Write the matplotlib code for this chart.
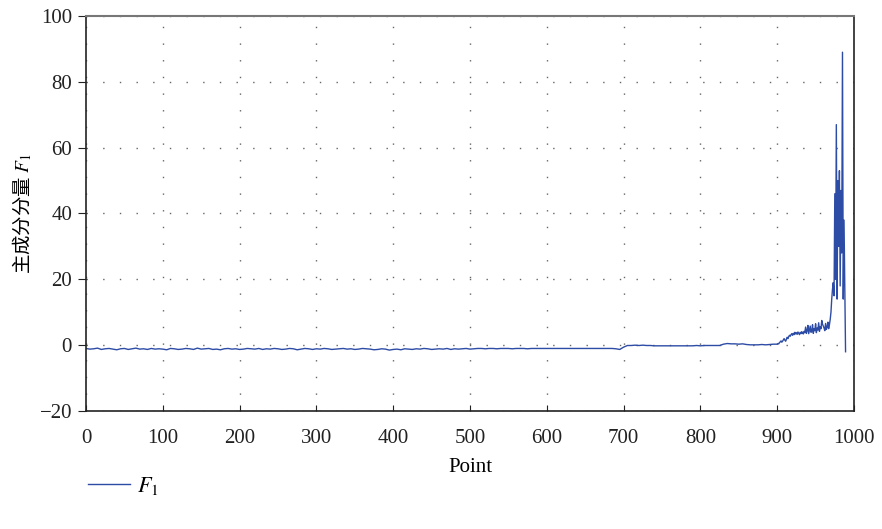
import matplotlib
matplotlib.use("Agg")
import matplotlib.pyplot as plt
import numpy as np

# ---- data ----
x_flat = list(range(0, 700, 5))
y_flat = [-1.0, -1.2, -1.1, -0.9, -1.3, -1.1, -1.0, -1.2, -1.4, -1.1,
          -1.0, -1.3, -1.1, -0.9, -1.2, -1.1, -1.3, -1.0, -1.2, -1.1,
          -1.2, -1.4, -1.0, -1.1, -1.3, -1.2, -1.0, -1.1, -1.3, -0.9,
          -1.2, -1.1, -1.0, -1.3, -1.2, -1.4, -1.1, -1.0, -1.2, -1.1,
          -1.3, -1.2, -1.0, -1.1, -1.2, -1.0, -1.3, -1.1, -1.2, -1.0,
          -1.1, -1.3, -1.2, -1.0, -1.1, -1.4, -1.2, -1.0, -1.1, -1.3,
          -1.1, -1.2, -1.0, -1.1, -1.3, -1.2, -1.1, -1.0, -1.2, -1.1,
          -1.3, -1.2, -1.0, -1.1, -1.2, -1.4, -1.3, -1.1, -1.2, -1.5,
          -1.3, -1.2, -1.4, -1.1, -1.2, -1.3, -1.1, -1.2, -1.0, -1.1,
          -1.3, -1.2, -1.1, -1.2, -1.0, -1.3, -1.1, -1.2, -1.1, -1.0,
          -1.2, -1.1, -1.0, -1.0, -1.1, -1.0, -1.0, -1.1, -1.0, -1.0,
          -1.0, -1.1, -1.0, -1.0, -1.0, -1.1, -1.0, -1.0, -1.0, -1.0,
          -1.0, -1.0, -1.0, -1.0, -1.0, -1.0, -1.0, -1.0, -1.0, -1.0,
          -1.0, -1.0, -1.0, -1.0, -1.0, -1.0, -1.0, -1.0, -1.1, -1.3]
x_mid = list(range(700, 900, 5))
y_mid = [-0.6, -0.1, -0.1, 0.0, -0.1, 0.0, -0.1, -0.1, -0.2, -0.2,
         -0.2, -0.2, -0.2, -0.2, -0.2, -0.2, -0.2, -0.2, -0.2, -0.1,
         -0.2, -0.1, -0.1, -0.1, -0.1, -0.1, 0.3, 0.5, 0.4, 0.4,
         0.3, 0.4, 0.2, 0.1, 0.1, 0.1, 0.2, 0.1, 0.2, 0.3]
x_tail = list(range(900, 990))
y_tail = [0.3, 0.5, 0.4, 0.8, 1.0, 1.3, 0.9, 1.2, 1.6, 2.0,
          1.5, 1.2, 1.8, 2.4, 2.0, 2.6, 3.0, 2.7, 3.2, 3.5,
          3.0, 3.6, 3.2, 3.9, 3.4, 3.8, 3.3, 4.0, 3.6, 3.2,
          3.9, 3.5, 4.1, 3.7, 3.4, 4.2, 3.8, 5.5, 3.6, 4.4,
          6.0, 3.5, 4.6, 5.8, 3.9, 4.3, 6.2, 3.6, 5.0, 4.4,
          6.5, 3.8, 5.2, 4.6, 6.8, 4.2, 5.6, 5.0, 7.5, 6.4,
          5.8, 5.2, 4.4, 6.6, 4.8, 5.4, 7.0, 5.0, 6.2, 7.8,
          10.0, 14.0, 17.0,
          19.0, 15.0, 46.0, 20.0, 67.0, 14.0, 50.0, 30.0, 53.0, 18.0,
          47.0, 28.0, 89.0, 14.0, 38.0, 17.0, -2.0]

x_all = x_flat + x_mid + x_tail
y_all = y_flat + y_mid + y_tail

xticks = [0, 100, 200, 300, 400, 500, 600, 700, 800, 900, 1000]
yticks = [-20, 0, 20, 40, 60, 80, 100]

plt.rcParams['font.family'] = ['Liberation Serif', 'Noto Sans CJK SC']
plt.rcParams['mathtext.fontset'] = 'stix'

fig = plt.figure(figsize=(8.82, 5.29), dpi=100)
ax = fig.add_axes([86/882, 1-411/529, (854-86)/882, (411-16)/529])

line, = ax.plot(x_all, y_all, color='#2d4ca6', linewidth=1.0, label='$F_1$')

ax.set_xlim(0, 1000)
ax.set_ylim(-20, 100)
ax.set_xticks(xticks)
ax.set_yticks(yticks)
ax.set_yticklabels(['\u221220' if v < 0 else str(v) for v in yticks])
ax.tick_params(axis='both', labelsize=15, colors='#222222')
ax.tick_params(axis='x', direction='in', length=4, pad=13)
ax.tick_params(axis='y', direction='out', length=6, pad=4)

ax.grid(True, linestyle=(0, (1, 11)), color='#666666', linewidth=1.0)

for s in ['left', 'bottom', 'right']:
    ax.spines[s].set_color('#222222')
    ax.spines[s].set_linewidth(1.2)
ax.spines['top'].set_color('#777777')
ax.spines['top'].set_linewidth(1.5)

ax.set_xlabel('Point', fontsize=15, labelpad=7)
ax.set_ylabel('主成分分量 $F_1$', fontsize=14, family=['Noto Sans CJK SC', 'DejaVu Sans'], labelpad=4)

fig.legend(handles=[line], loc='center left', bbox_to_anchor=(68/882, 1-486/529),
           frameon=False, fontsize=16, handlelength=1.9, handletextpad=0.3)

fig.savefig('out.png', dpi=100)
